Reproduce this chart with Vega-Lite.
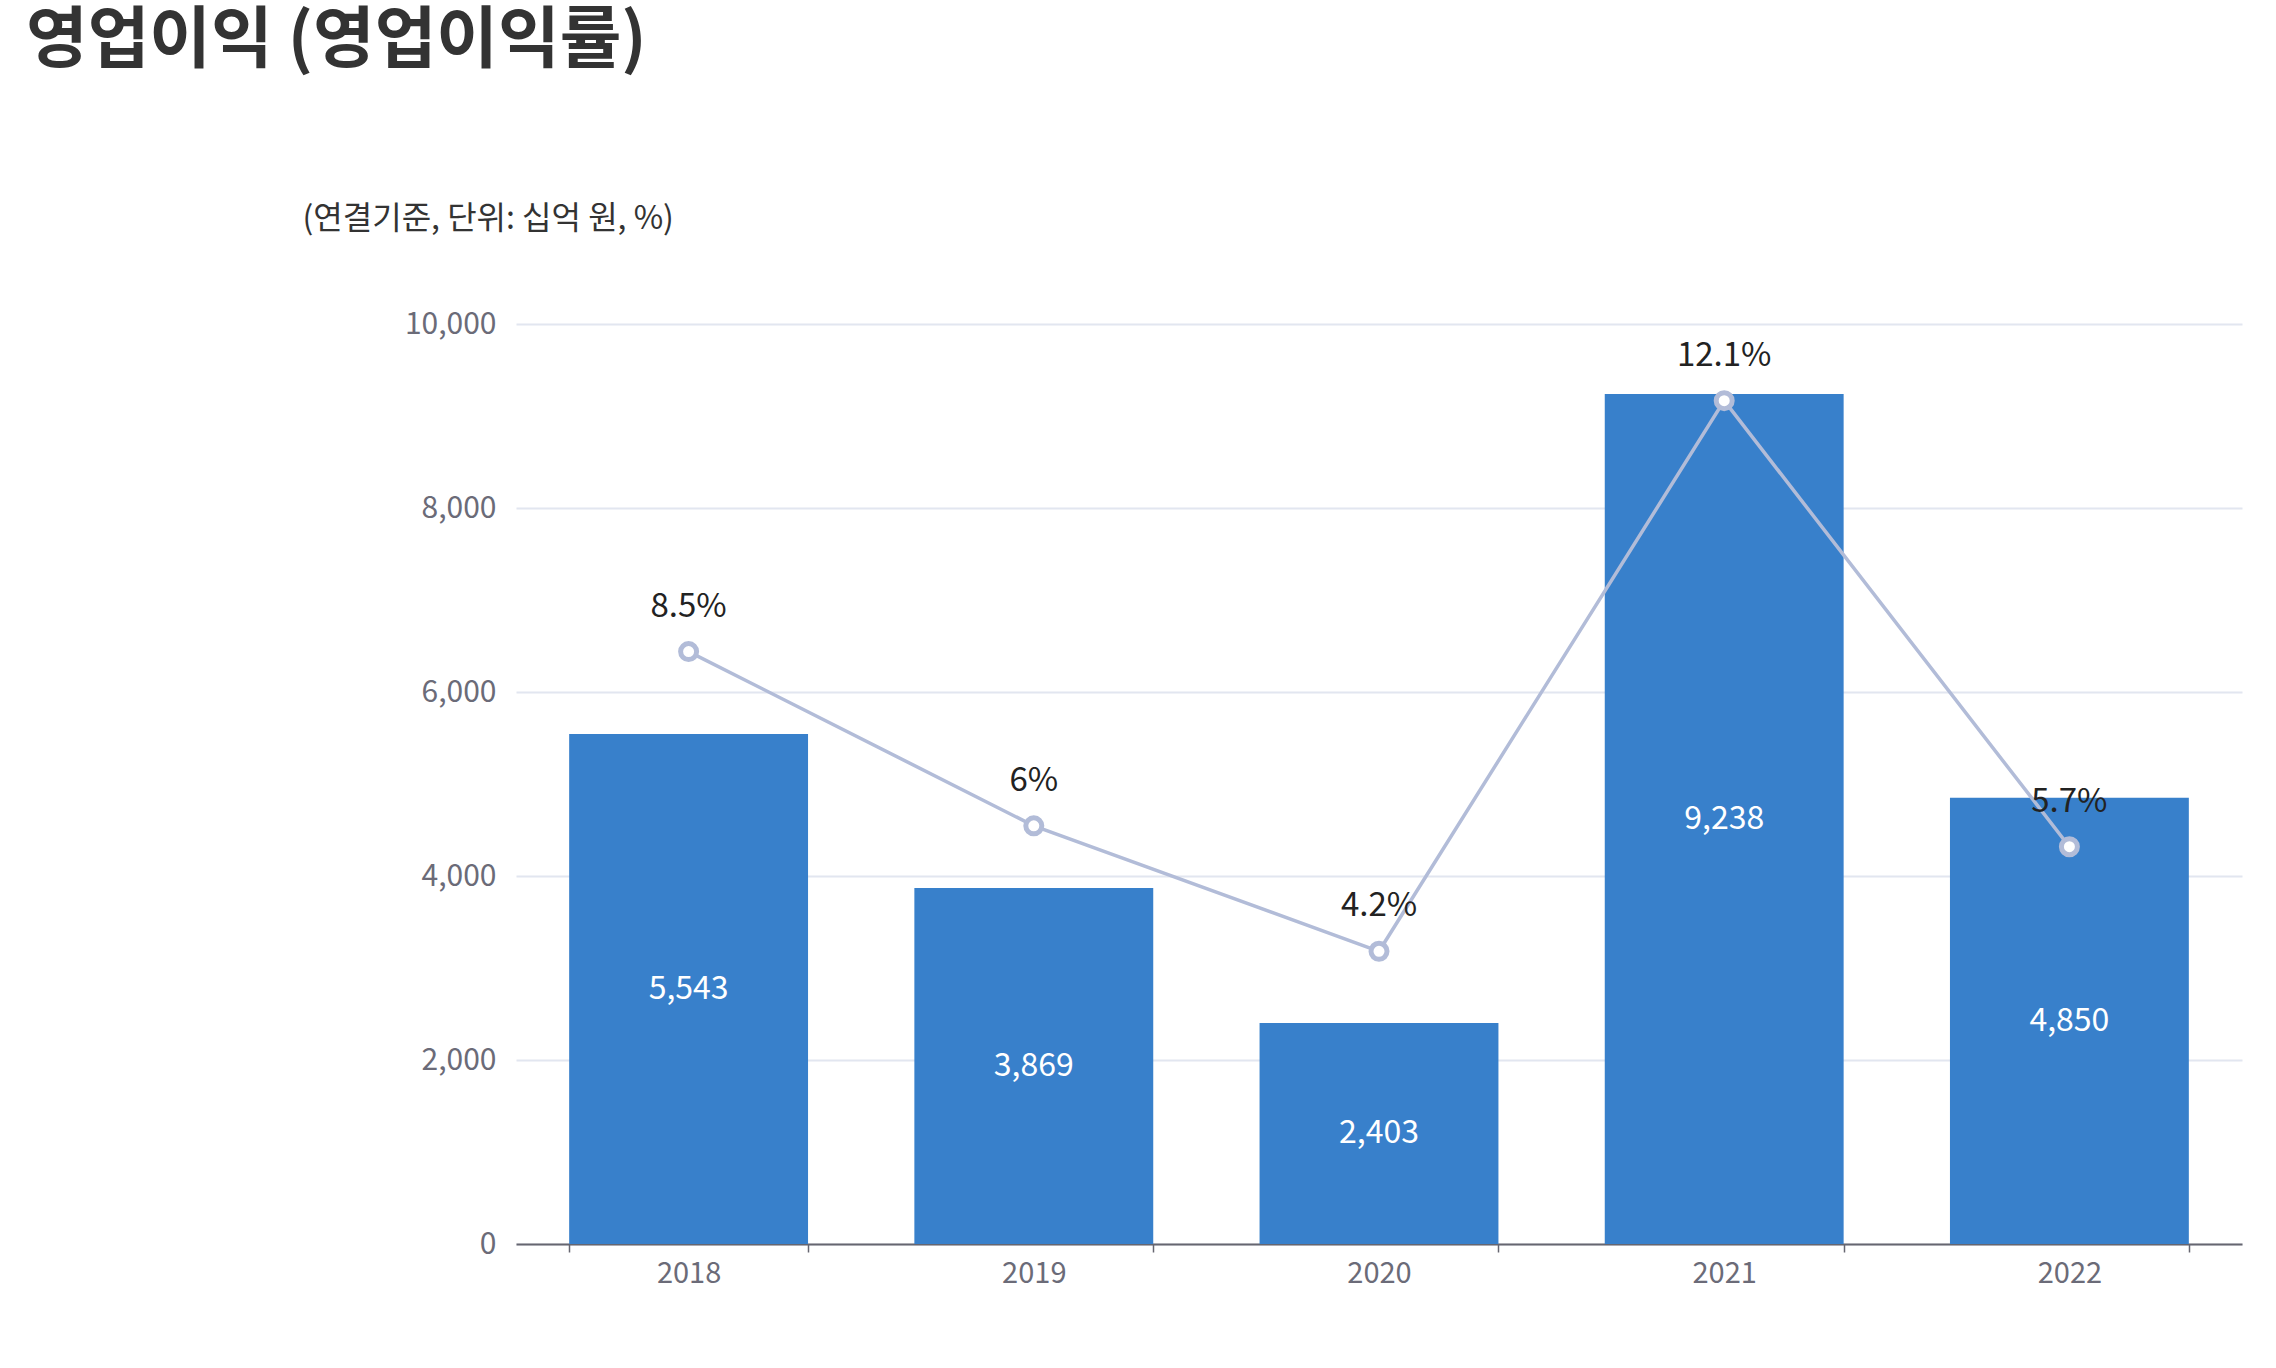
{
  "$schema": "https://vega.github.io/schema/vega-lite/v6.json",
  "width": 1726,
  "height": 920,
  "autosize": {"type": "none"},
  "padding": {"left": 516, "top": 324, "right": 34, "bottom": 124},
  "background": "white",
  "config": {"font": "Noto Sans CJK KR", "view": {"stroke": null}},
  "title": {
    "text": "영업이익 (영업이익률)",
    "anchor": "start",
    "frame": "group",
    "dx": -490,
    "offset": 126,
    "fontSize": 67,
    "fontWeight": "bold",
    "color": "#333333",
    "font": "Noto Sans CJK KR"
  },
  "data": {
    "values": [
      {"year": "2018", "op": 5543, "margin": 8.5, "marginLabel": "8.5%"},
      {"year": "2019", "op": 3869, "margin": 6.0, "marginLabel": "6%"},
      {"year": "2020", "op": 2403, "margin": 4.2, "marginLabel": "4.2%"},
      {"year": "2021", "op": 9238, "margin": 12.1, "marginLabel": "12.1%"},
      {"year": "2022", "op": 4850, "margin": 5.7, "marginLabel": "5.7%"}
    ]
  },
  "encoding": {
    "x": {
      "field": "year",
      "type": "ordinal",
      "scale": {"paddingInner": 0.308, "paddingOuter": 0.154},
      "axis": {
        "title": null,
        "labelAngle": 0,
        "labelFontSize": 29,
        "labelColor": "#6b6b78",
        "labelPadding": 7,
        "domainColor": "#666670",
        "domainWidth": 2,
        "tickColor": "#666670",
        "tickWidth": 1.5,
        "tickSize": 8,
        "tickBand": "extent",
        "grid": false
      }
    }
  },
  "layer": [
    {
      "mark": {"type": "bar", "color": "#3880cb"},
      "encoding": {
        "y": {
          "field": "op",
          "type": "quantitative",
          "scale": {"domain": [0, 10000]},
          "axis": {
            "values": [0, 2000, 4000, 6000, 8000, 10000],
            "format": ",d",
            "domain": false,
            "ticks": false,
            "labelFontSize": 30,
            "labelColor": "#6b6b78",
            "labelPadding": 20,
            "gridColor": "#e2e6f0",
            "gridWidth": 2,
            "title": "(연결기준, 단위: 십억 원, %)",
            "titleAngle": 0,
            "titleAlign": "left",
            "titleBaseline": "middle",
            "titleX": -214,
            "titleY": -106,
            "titleFontSize": 32,
            "titleFontWeight": "normal",
            "titleColor": "#333333"
          }
        }
      }
    },
    {
      "mark": {"type": "text", "color": "white", "fontSize": 32, "baseline": "middle"},
      "encoding": {
        "y": {
          "field": "op",
          "type": "quantitative",
          "scale": {"domain": [0, 20000]},
          "axis": null
        },
        "text": {"field": "op", "type": "quantitative", "format": ",d"}
      }
    },
    {
      "encoding": {
        "y": {
          "field": "margin",
          "type": "quantitative",
          "scale": {"domain": [0, 13.2]},
          "axis": null
        }
      },
      "layer": [
        {"mark": {"type": "line", "color": "#b2bcd8", "strokeWidth": 3.5}},
        {
          "mark": {
            "type": "point",
            "shape": "circle",
            "filled": true,
            "fill": "white",
            "stroke": "#b2bcd8",
            "strokeWidth": 5,
            "size": 256,
            "opacity": 1
          }
        },
        {
          "mark": {"type": "text", "color": "#222222", "fontSize": 33, "baseline": "alphabetic", "dy": -35},
          "encoding": {"text": {"field": "marginLabel"}}
        }
      ]
    }
  ],
  "resolve": {"scale": {"y": "independent"}}
}
